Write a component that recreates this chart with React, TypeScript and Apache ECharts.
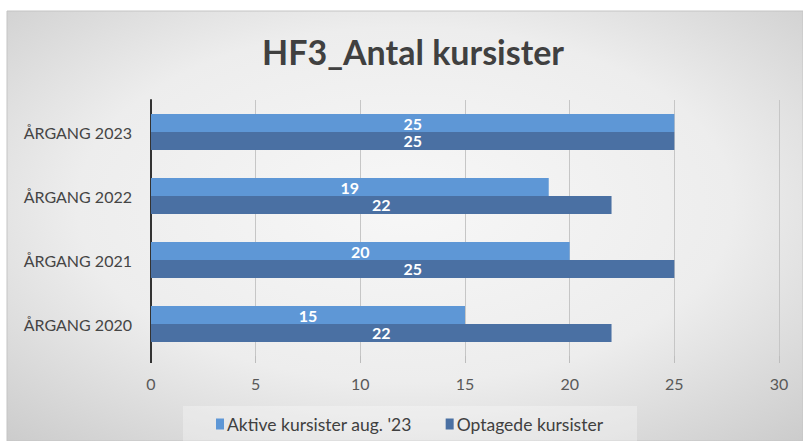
import React, { useEffect, useRef } from "react";
import * as echarts from "echarts";

const categories = ["ÅRGANG 2020", "ÅRGANG 2021", "ÅRGANG 2022", "ÅRGANG 2023"];
const activeValues = [15, 20, 19, 25];
const admittedValues = [22, 25, 22, 25];
const seriesNames = ["Aktive kursister aug. '23", "Optagede kursister"];
const titleText = "HF3_Antal kursister";
const xMin = 0;
const xMax = 30;
const xInterval = 5;

const FONT = "Lato, 'Open Sans', sans-serif";

export default function App() {
  const ref = useRef<HTMLDivElement>(null);
  useEffect(() => {
    if (!ref.current) return;
    const chart = echarts.init(ref.current, undefined, { renderer: "svg" });
    chart.setOption({
      animation: false,
      textStyle: { fontFamily: FONT },
      graphic: [
        {
          type: "rect",
          z: -10,
          silent: true,
          shape: { x: 7, y: 11, width: 796, height: 430 },
          style: {
            fill: new echarts.graphic.RadialGradient(0.5, 0.45, 0.75, [
              { offset: 0, color: "#f7f7f7" },
              { offset: 0.55, color: "#ededed" },
              { offset: 1, color: "#cbcbcb" },
            ]),
            stroke: "#c4c4c4",
            lineWidth: 1,
          },
        },
        {
          type: "rect",
          z: -5,
          silent: true,
          shape: { x: 183, y: 406, width: 454, height: 40 },
          style: { fill: "rgba(255,255,255,0.3)" },
        },
        {
          type: "line",
          z: 5,
          silent: true,
          shape: { x1: 151, y1: 352, x2: 151, y2: 363 },
          style: { stroke: "#333333", lineWidth: 2 },
        },
      ],
      title: {
        text: titleText,
        left: 257,
        top: 29,
        textStyle: {
          fontFamily: FONT,
          fontSize: 34,
          fontWeight: "bold",
          color: "#404040",
        },
      },
      legend: {
        data: seriesNames,
        left: 211,
        top: 410,
        itemWidth: 8,
        itemHeight: 11,
        itemGap: 34,
        icon: "rect",
        textStyle: { fontFamily: FONT, fontSize: 17.5, color: "#404040", padding: [0, 0, 0, -2] },
      },
      grid: { left: 151, right: 24, top: 100, bottom: 85, containLabel: false },
      xAxis: {
        type: "value",
        min: xMin,
        max: xMax,
        interval: xInterval,
        axisLine: { show: false },
        axisTick: { show: true, length: 7, lineStyle: { color: "#bdbdbd" } },
        splitLine: { show: true, lineStyle: { color: "#c6c6c6", width: 1 } },
        axisLabel: { fontFamily: FONT, fontSize: 16, color: "#595959", margin: 19 },
      },
      yAxis: {
        type: "category",
        data: categories,
        axisLine: { show: true, lineStyle: { color: "#333333", width: 2 } },
        axisTick: { show: false },
        axisLabel: { fontFamily: FONT, fontSize: 16, color: "#454545", margin: 19 },
      },
      series: [
        {
          name: seriesNames[0],
          type: "bar",
          data: activeValues,
          barGap: "0%",
          barCategoryGap: "44%",
          itemStyle: { color: "#5e97d6" },
          label: {
            show: true,
            position: "inside",
            color: "#ffffff",
            fontFamily: FONT,
            fontSize: 16,
            fontWeight: "bold",
          },
        },
        {
          name: seriesNames[1],
          type: "bar",
          data: admittedValues,
          barGap: "0%",
          barCategoryGap: "44%",
          itemStyle: { color: "#4a70a3" },
          label: {
            show: true,
            position: "inside",
            color: "#ffffff",
            fontFamily: FONT,
            fontSize: 16,
            fontWeight: "bold",
          },
        },
      ],
    });
    return () => chart.dispose();
  }, []);
  return (
    <div
      ref={ref}
      style={{ position: "absolute", left: 0, top: 0, width: 803, height: 441, background: "#ffffff" }}
    />
  );
}
